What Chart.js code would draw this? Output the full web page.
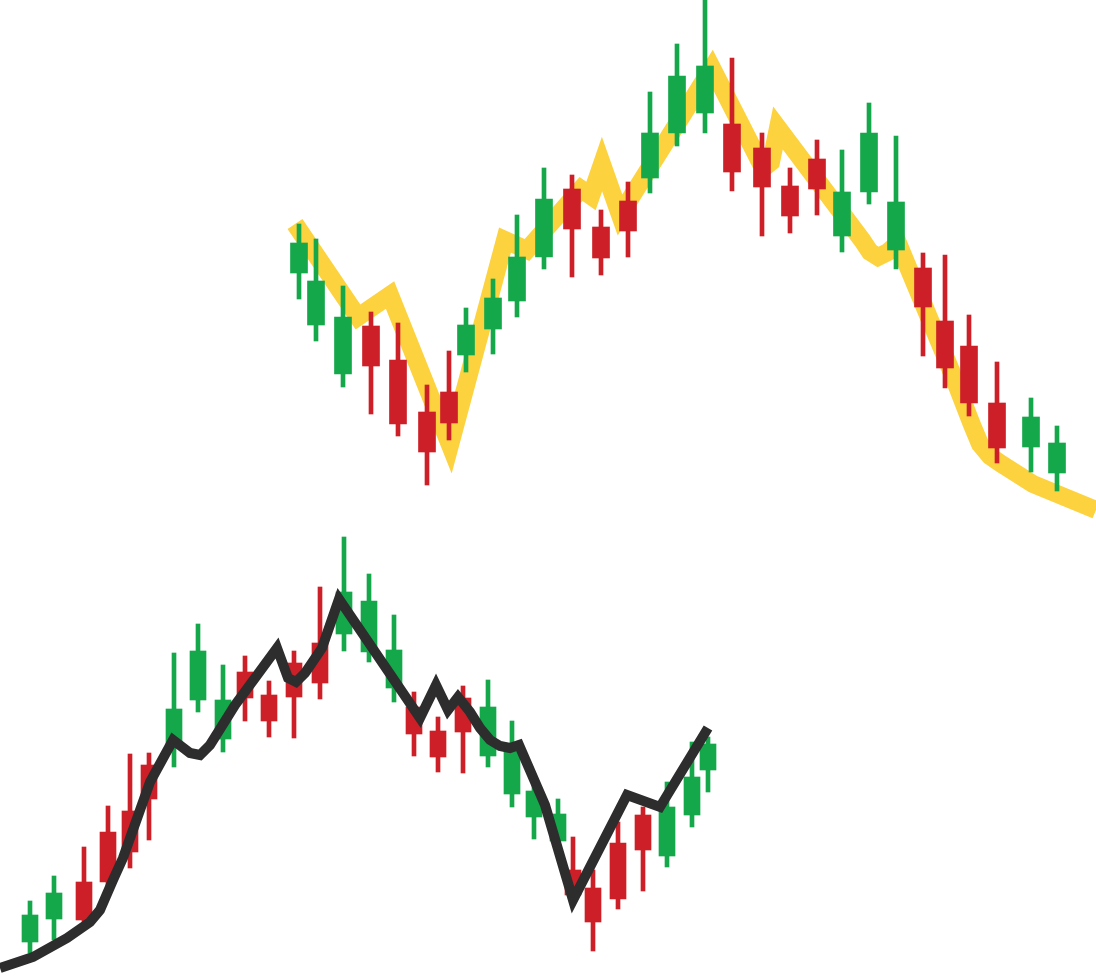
<!DOCTYPE html>
<html>
<head>
<meta charset="utf-8">
<title>Candlesticks</title>
<script src="https://cdn.jsdelivr.net/npm/chart.js@4.4.1/dist/chart.umd.min.js"></script>
<style>
  html, body { margin: 0; padding: 0; background: #ffffff; }
  #wrap { width: 1096px; height: 980px; position: relative; }
</style>
</head>
<body>
<div id="wrap"><canvas id="chart"></canvas></div>
<script>
// upper candle group (price units, bottom of picture = 0)
const topX = [299, 316, 343, 371, 398, 427, 449, 466, 493, 517, 544, 572, 601, 628, 650, 677, 705, 732, 762, 790, 817, 842, 869, 896, 923, 945, 969, 997, 1031, 1057];
const topOpen = [707, 655, 606, 654, 620, 568, 588, 625, 651, 679, 723, 791, 753, 779, 802, 847, 867, 856, 832, 794, 821, 744, 788, 730, 712, 659, 634, 577, 533, 507];
const topClose = [737, 699, 663, 614, 556, 528, 557, 655, 682, 723, 781, 751, 722, 749, 847, 904, 914, 808, 793, 764, 791, 788, 847, 778, 673, 612, 577, 532, 563, 537];
const topHigh = [756, 741, 694, 668, 657, 595, 629, 672, 701, 765, 812, 805, 770, 798, 888, 936, 980, 922, 847, 812, 840, 830, 877, 844, 727, 725, 665, 618, 582, 554];
const topLow = [681, 639, 593, 566, 544, 495, 540, 608, 626, 663, 711, 703, 705, 723, 787, 834, 847, 789, 744, 747, 765, 728, 776, 711, 624, 592, 564, 517, 508, 489];

// lower candle group
const botX = [30, 54, 84, 108, 130, 149, 174, 198, 223, 245, 269, 294, 320, 344, 369, 394, 414, 438, 463, 488, 512, 534, 558, 573, 593, 618, 643, 667, 692, 708];
const botOpen = [38, 61, 98, 148, 169, 215, 232, 280, 241, 308, 285, 317, 337, 346, 328, 292, 273, 249, 282, 224, 186, 163, 139, 110, 92, 137, 165, 124, 165, 210];
const botClose = [65, 87, 60, 98, 128, 181, 271, 329, 280, 282, 259, 283, 297, 388, 379, 330, 246, 223, 248, 273, 233, 189, 166, 85, 58, 81, 130, 173, 203, 236];
const botHigh = [79, 104, 133, 174, 226, 227, 327, 356, 315, 324, 299, 329, 393, 443, 406, 365, 288, 263, 294, 300, 259, 200, 181, 143, 110, 158, 173, 198, 238, 243];
const botLow = [27, 40, 58, 94, 112, 140, 213, 268, 228, 259, 243, 242, 281, 329, 318, 278, 224, 208, 207, 213, 173, 141, 130, 75, 29, 71, 89, 113, 153, 188];

// yellow trend line over the upper group
const yellowX = [295, 358, 390, 450, 505, 527, 581, 591, 602, 620, 712, 760, 766, 771, 778, 862, 870, 878, 888, 898, 950, 972, 980, 990, 1000, 1033, 1096];
const yellowY = [756, 663, 685, 535, 740, 730, 791, 784, 816, 765, 912, 818, 814, 818, 852, 740, 728, 723, 728, 737, 612, 555, 536, 524, 517, 496, 470];

// black trend line over the lower group
const blackX = [0, 33, 67, 90, 100, 113, 123, 150, 173, 190, 200, 210, 235, 255, 277, 288, 296, 305, 322, 339, 420, 436, 448, 458, 470, 480, 490, 500, 510, 519, 545, 573, 627, 660, 708];
const blackY = [12, 23, 42, 58, 70, 100, 122, 198, 240, 227, 225, 235, 275, 302, 332, 302, 298, 307, 332, 381, 262, 295, 270, 283, 268, 252, 240, 234, 232, 235, 175, 80, 185, 173, 252];

const GREEN = "#14a84b";
const RED = "#cd1f27";
const YELLOW = "#fdd23f";
const BLACK = "#2d2d2d";

const chartCanvas = document.querySelector("#chart");

const wickData = (xs, highs, lows) => xs.map((x, i) => ({ x: x, y: [lows[i], highs[i]] }));
const bodyData = (xs, opens, closes) => xs.map((x, i) => ({ x: x, y: [opens[i], closes[i]] }));
const candleColors = (opens, closes) => opens.map((o, i) => (closes[i] >= o ? GREEN : RED));
const lineData = (xs, ys) => xs.map((x, i) => ({ x: x, y: ys[i] }));

const barSet = (data, colors, thickness, order) => ({
  type: "bar",
  data: data,
  backgroundColor: colors,
  borderWidth: 0,
  barThickness: thickness,
  grouped: false,
  order: order,
});

const lineSet = (data, color, width, order) => ({
  type: "line",
  data: data,
  borderColor: color,
  borderWidth: width,
  pointRadius: 0,
  tension: 0,
  fill: false,
  borderJoinStyle: "miter",
  borderCapStyle: "butt",
  order: order,
});

const topColors = candleColors(topOpen, topClose);
const botColors = candleColors(botOpen, botClose);

const config = {
  type: "bar",
  data: {
    datasets: [
      lineSet(lineData(yellowX, yellowY), YELLOW, 18, 5),
      barSet(wickData(topX, topHigh, topLow), topColors, 4, 4),
      barSet(bodyData(topX, topOpen, topClose), topColors, 17, 3),
      barSet(wickData(botX, botHigh, botLow), botColors, 4, 4),
      barSet(bodyData(botX, botOpen, botClose), botColors, 16, 3),
      lineSet(lineData(blackX, blackY), BLACK, 10, 1),
    ],
  },
  options: {
    responsive: true,
    maintainAspectRatio: false,
    animation: false,
    layout: { padding: 0 },
    plugins: {
      legend: { display: false },
      tooltip: { enabled: false },
    },
    scales: {
      x: { type: "linear", min: 0, max: 1096, offset: false, display: false },
      y: { type: "linear", min: 0, max: 980, display: false },
    },
  },
};

const chart = new Chart(chartCanvas, config);
</script>
</body>
</html>
